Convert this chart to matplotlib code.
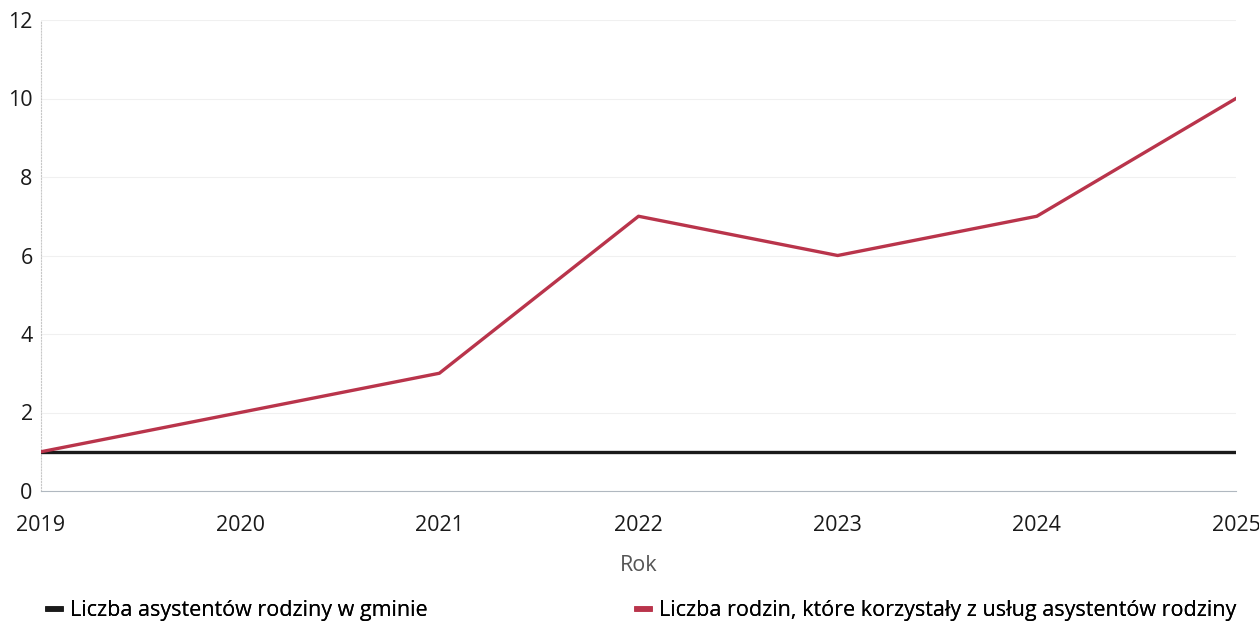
import matplotlib.pyplot as plt
from matplotlib.lines import Line2D

plt.rcParams['font.family'] = ['Open Sans', 'DejaVu Sans']

years = [2019, 2020, 2021, 2022, 2023, 2024, 2025]
asystenci = [1, 1, 1, 1, 1, 1, 1]
rodziny = [1, 2, 3, 7, 6, 7, 10]

label_asyst = 'Liczba asystentów rodziny w gminie'
label_rodz = 'Liczba rodzin, które korzystały z usług asystentów rodziny'

fs = 15.5

fig = plt.figure(figsize=(12.59, 6.25), dpi=100)
ax = fig.add_axes([0.0326, 0.2144, 0.9491, 0.7536])

l1, = ax.plot(years, asystenci, color='#1a1a1a', lw=2.4, label=label_asyst, zorder=3)
l2, = ax.plot(years, rodziny, color='#b9344b', lw=2.4, label=label_rodz, zorder=4)

ax.set_xlim(2019, 2025)
ax.set_ylim(0, 12)
ax.set_xticks(years)
ax.set_yticks(range(0, 13, 2))

# faint grid, as in the scanned original
ax.grid(axis='y', color='#f0f0f0', lw=0.8)
for side in ['top', 'right']:
    ax.spines[side].set_visible(False)
ax.spines['left'].set_color('#c8c8c8')
ax.spines['left'].set_linestyle(':')
ax.spines['bottom'].set_color('#b0b8c0')
ax.spines['bottom'].set_linewidth(0.8)

ax.tick_params(axis='both', length=0, labelsize=fs, colors='#1a1a1a')
ax.tick_params(axis='x', pad=17)
ax.tick_params(axis='y', pad=6)

ax.set_xlabel('Rok', fontsize=fs, color='#555555', labelpad=14)

for line, lab, x0 in [(l1, label_asyst, 0.028), (l2, label_rodz, 0.496)]:
    h = Line2D([], [], color=line.get_color(), lw=4)
    leg = fig.legend([h], [lab], loc='lower left', bbox_to_anchor=(x0, -0.015),
                     frameon=False, fontsize=fs, handlelength=0.6,
                     handletextpad=0.4, borderaxespad=0.2)
    fig.add_artist(leg)

fig.savefig('out.png', dpi=100)
